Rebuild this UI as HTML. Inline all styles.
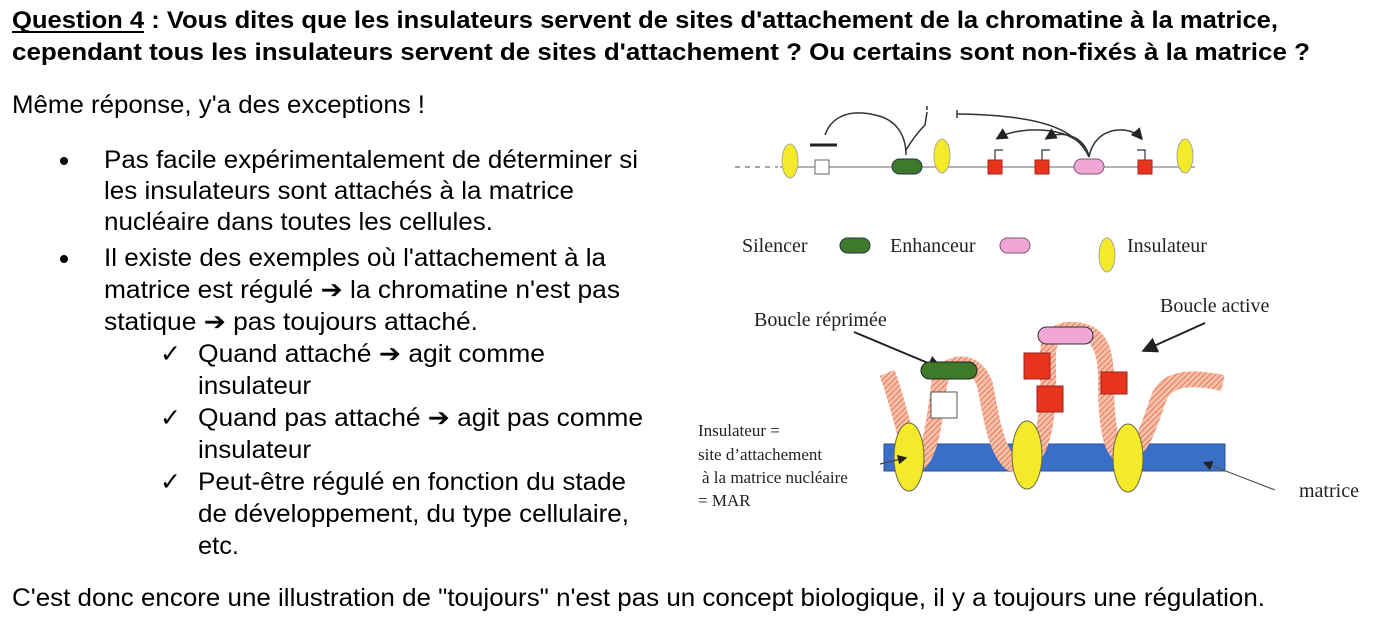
<!DOCTYPE html>
<html><head><meta charset="utf-8"><style>
html,body{margin:0;padding:0;background:#fff;}
svg{display:block}
.t{font-family:"Liberation Sans",Arial,sans-serif;font-size:25px;fill:#000}
.b{font-weight:bold;font-size:24px}
.s{font-family:"Liberation Serif",serif;font-size:20px;fill:#222}
.m{font-family:"Liberation Serif",serif;font-size:17px;fill:#222}
</style></head><body>
<svg width="1380" height="624" viewBox="0 0 1380 624" xmlns="http://www.w3.org/2000/svg">
<defs>
<pattern id="hatch" width="4" height="4" patternUnits="userSpaceOnUse" patternTransform="rotate(45)">
<rect width="4" height="4" fill="#f6c1aa"/><line x1="0" y1="0" x2="0" y2="4" stroke="#e8775a" stroke-width="2"/>
</pattern>
<marker id="ah" markerWidth="8" markerHeight="8" refX="6" refY="4" orient="auto"><path d="M0,0 L8,4 L0,8 z" fill="#222"/></marker>
</defs>
<text class="t b" x="12" y="28" textLength="1266" lengthAdjust="spacingAndGlyphs">Question 4 : Vous dites que les insulateurs servent de sites d'attachement de la chromatine à la matrice,</text>
<line x1="12" y1="32" x2="144" y2="32" stroke="#000" stroke-width="2"/>
<text class="t b" x="12" y="60" textLength="1298" lengthAdjust="spacingAndGlyphs">cependant tous les insulateurs servent de sites d'attachement ? Ou certains sont non-fixés à la matrice ?</text>
<text class="t" x="12" y="113" textLength="413" lengthAdjust="spacingAndGlyphs">Même réponse, y'a des exceptions !</text>
<circle cx="64" cy="161" r="4" fill="#000"/>
<circle cx="64" cy="259" r="4" fill="#000"/>
<text class="t" x="104" y="168" textLength="534" lengthAdjust="spacingAndGlyphs">Pas facile expérimentalement de déterminer si</text>
<text class="t" x="104" y="199" textLength="470" lengthAdjust="spacingAndGlyphs">les insulateurs sont attachés à la matrice</text>
<text class="t" x="104" y="230" textLength="389" lengthAdjust="spacingAndGlyphs">nucléaire dans toutes les cellules.</text>
<text class="t" x="104" y="266" textLength="502" lengthAdjust="spacingAndGlyphs">Il existe des exemples où l'attachement à la</text>
<text class="t" x="104" y="298" textLength="516" lengthAdjust="spacingAndGlyphs">matrice est régulé ➔ la chromatine n'est pas</text>
<text class="t" x="104" y="330" textLength="374" lengthAdjust="spacingAndGlyphs">statique ➔ pas toujours attaché.</text>
<text class="t" x="160" y="362">✓</text><text class="t" x="198" y="362" textLength="347" lengthAdjust="spacingAndGlyphs">Quand attaché ➔ agit comme</text>
<text class="t" x="198" y="394" textLength="113" lengthAdjust="spacingAndGlyphs">insulateur</text>
<text class="t" x="160" y="426">✓</text><text class="t" x="198" y="426" textLength="445" lengthAdjust="spacingAndGlyphs">Quand pas attaché ➔ agit pas comme</text>
<text class="t" x="198" y="458" textLength="113" lengthAdjust="spacingAndGlyphs">insulateur</text>
<text class="t" x="160" y="490">✓</text><text class="t" x="198" y="490" textLength="428" lengthAdjust="spacingAndGlyphs">Peut-être régulé en fonction du stade</text>
<text class="t" x="198" y="522" textLength="431" lengthAdjust="spacingAndGlyphs">de développement, du type cellulaire,</text>
<text class="t" x="198" y="554" textLength="41" lengthAdjust="spacingAndGlyphs">etc.</text>
<text class="t" x="12" y="606" textLength="1253" lengthAdjust="spacingAndGlyphs">C'est donc encore une illustration de "toujours" n'est pas un concept biologique, il y a toujours une régulation.</text>

<!-- top diagram -->
<line x1="735" y1="167" x2="778" y2="167" stroke="#888" stroke-width="1.5" stroke-dasharray="5,5"/>
<line x1="780" y1="167" x2="1195" y2="167" stroke="#999" stroke-width="1.5"/>
<path d="M906,155 C906,140 900,120 875,115 C845,108 830,120 825,135" fill="none" stroke="#333" stroke-width="1.5"/>
<line x1="810" y1="145" x2="837" y2="145" stroke="#222" stroke-width="3"/>
<path d="M906,150 Q915,135 925,125 L927,112" fill="none" stroke="#333" stroke-width="1.5"/>
<line x1="927" y1="106" x2="927" y2="110" stroke="#333" stroke-width="1.5"/>
<path d="M957,114 C1030,115 1075,125 1089,157" fill="none" stroke="#333" stroke-width="1.5"/>
<line x1="957" y1="110" x2="957" y2="118" stroke="#333" stroke-width="1.5"/>
<path d="M1089,157 C1080,125 1020,125 998,138" fill="none" stroke="#333" stroke-width="1.5" marker-end="url(#ah)"/>
<path d="M1089,157 C1085,135 1060,130 1047,138" fill="none" stroke="#333" stroke-width="1.5" marker-end="url(#ah)"/>
<path d="M1089,157 C1095,125 1130,125 1141,138" fill="none" stroke="#333" stroke-width="1.5" marker-end="url(#ah)"/>
<g stroke="#333" stroke-width="1.2" fill="none">
<path d="M995,162 V150 H1003"/><path d="M1042,162 V150 H1050"/><path d="M1145,162 V150 H1137"/>
</g>
<ellipse cx="790" cy="161" rx="8" ry="17" fill="#f4ea2a" stroke="#aa9" stroke-width="1"/>
<ellipse cx="942" cy="156" rx="8" ry="17" fill="#f4ea2a" stroke="#aa9" stroke-width="1"/>
<ellipse cx="1185" cy="156" rx="8" ry="17" fill="#f4ea2a" stroke="#aa9" stroke-width="1"/>
<rect x="815" y="160" width="14" height="14" fill="#fff" stroke="#666"/>
<rect x="892" y="159" width="30" height="15" rx="7.5" fill="#3f7a2a" stroke="#234"/>
<rect x="988" y="160" width="14" height="14" fill="#e8341c" stroke="#a22"/>
<rect x="1035" y="160" width="14" height="14" fill="#e8341c" stroke="#a22"/>
<rect x="1138" y="160" width="14" height="14" fill="#e8341c" stroke="#a22"/>
<rect x="1074" y="159" width="30" height="15" rx="7.5" fill="#f2a6d6" stroke="#757"/>
<!-- legend -->
<text class="s" x="742" y="252">Silencer</text>
<rect x="840" y="238" width="30" height="15" rx="7.5" fill="#3f7a2a" stroke="#234"/>
<text class="s" x="890" y="252">Enhanceur</text>
<rect x="1000" y="238" width="30" height="15" rx="7.5" fill="#f2a6d6" stroke="#757"/>
<ellipse cx="1107" cy="255" rx="8" ry="17" fill="#f4ea2a" stroke="#aa9"/>
<text class="s" x="1127" y="252">Insulateur</text>
<!-- bottom diagram -->
<text class="s" x="754" y="326">Boucle réprimée</text>
<text class="s" x="1160" y="312">Boucle active</text>
<line x1="854" y1="332" x2="940" y2="368" stroke="#222" stroke-width="2" marker-end="url(#ah)"/>
<line x1="1205" y1="323" x2="1145" y2="350" stroke="#222" stroke-width="2" marker-end="url(#ah)"/>
<rect x="884" y="444" width="341" height="27" fill="#3a6fc8" stroke="#2a4f90"/>
<path d="M887,373 C898,400 905,440 915,465 C930,460 935,420 939,385 C943,360 975,355 985,385 C990,410 995,450 1011,463 C1040,470 1046,430 1048,395 C1050,360 1040,335 1067,330 C1100,328 1106,350 1106,380 C1106,420 1110,455 1124,455 C1145,450 1150,420 1160,395 C1170,375 1200,378 1223,383" fill="none" stroke="url(#hatch)" stroke-width="16"/>
<ellipse cx="909" cy="457" rx="15" ry="34" fill="#f4ea2a" stroke="#664"/>
<ellipse cx="1027" cy="455" rx="15" ry="34" fill="#f4ea2a" stroke="#664"/>
<ellipse cx="1128" cy="458" rx="15" ry="34" fill="#f4ea2a" stroke="#664"/>
<rect x="921" y="362" width="56" height="17" rx="8.5" fill="#3f7a2a" stroke="#222"/>
<rect x="931" y="392" width="26" height="26" fill="#fff" stroke="#555"/>
<rect x="1038" y="327" width="55" height="17" rx="8.5" fill="#f2a6d6" stroke="#333"/>
<rect x="1024" y="353" width="26" height="26" fill="#e8341c" stroke="#922"/>
<rect x="1037" y="386" width="26" height="26" fill="#e8341c" stroke="#922"/>
<rect x="1101" y="372" width="26" height="22" fill="#e8341c" stroke="#922"/>
<line x1="880" y1="464" x2="905" y2="458" stroke="#444" stroke-width="1.2" marker-end="url(#ah)"/>
<line x1="1275" y1="490" x2="1205" y2="463" stroke="#555" stroke-width="1.2" marker-end="url(#ah)"/>
<text class="m" x="698" y="436">Insulateur =</text>
<text class="m" x="698" y="460">site d’attachement</text>
<text class="m" x="702" y="483">à la matrice nucléaire</text>
<text class="m" x="698" y="506">= MAR</text>
<text class="s" x="1299" y="497">matrice</text>
</svg>
</body></html>
